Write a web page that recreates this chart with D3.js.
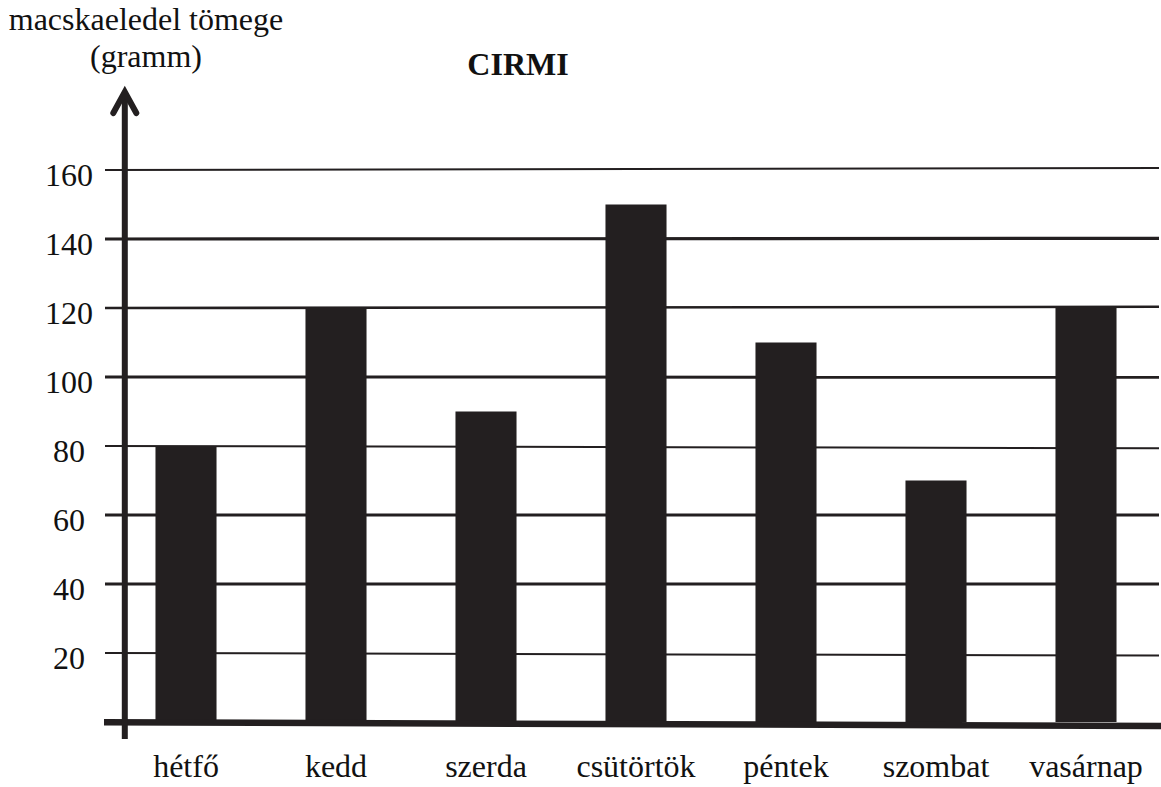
<!DOCTYPE html>
<html>
<head>
<meta charset="utf-8">
<script src="https://cdn.jsdelivr.net/npm/d3@7"></script>
<style>
  html, body { margin: 0; padding: 0; background: #fff; }
  svg { display: block; }
</style>
</head>
<body>
<svg id="chart" width="1161" height="787"></svg>
<script>
// ---- data ----
const days = ["hétfő", "kedd", "szerda", "csütörtök", "péntek", "szombat", "vasárnap"];
const values = [80, 120, 90, 150, 110, 70, 120];
const yTicks = [20, 40, 60, 80, 100, 120, 140, 160];
const title = "CIRMI";
const yTitleLines = ["macskaeledel tömege", "(gramm)"];

// ---- styling (not data) ----
const ink = "#231f20";
const fontFamily = "'Liberation Serif', 'Tinos', 'Times New Roman', 'DejaVu Serif', serif";
const fontSize = 32;
const gridWidth = {20: 2, 40: 3, 60: 3, 80: 2, 100: 3, 120: 2.6, 140: 3.2, 160: 2};
const gridTilt = {20: 2.6, 40: 0, 60: 0, 80: 2.2, 100: 0.3, 120: -1.2, 140: -0.7, 160: -2};

const svg = d3.select("#chart");

const x = d3.scaleBand()
  .domain(days)
  .range([111, 1161])
  .paddingInner(0.593)
  .paddingOuter(0.2965);

const y = d3.scaleLinear().domain([0, 160]).range([722, 170]);

const gridX0 = 105, gridX1 = 1159;

// gridlines
svg.append("g").selectAll("line")
  .data(yTicks)
  .join("line")
  .attr("x1", gridX0)
  .attr("x2", gridX1)
  .attr("y1", d => y(d))
  .attr("y2", d => y(d) + gridTilt[d])
  .attr("stroke", ink)
  .attr("stroke-width", d => gridWidth[d]);

// bars
svg.append("g").selectAll("rect")
  .data(values)
  .join("rect")
  .attr("x", (d, i) => x(days[i]))
  .attr("width", x.bandwidth())
  .attr("y", d => y(d))
  .attr("height", d => y(0) - y(d))
  .attr("fill", ink);

// baseline (slightly slanted, thick)
svg.append("line")
  .attr("x1", 104).attr("x2", 1161)
  .attr("y1", y(0) + 0.3).attr("y2", y(0) + 4)
  .attr("stroke", ink).attr("stroke-width", 6.5);

// y axis with arrow
const axisX = 124.8;
svg.append("line")
  .attr("x1", axisX).attr("x2", axisX)
  .attr("y1", 93).attr("y2", 739)
  .attr("stroke", ink).attr("stroke-width", 6);
svg.append("path")
  .attr("d", d3.line()([[axisX - 11.5, 113], [axisX, 92], [axisX + 11.5, 113]]))
  .attr("fill", "none")
  .attr("stroke", ink)
  .attr("stroke-width", 6)
  .attr("stroke-linecap", "round")
  .attr("stroke-linejoin", "miter");

const textStyle = sel => sel
  .attr("font-family", fontFamily)
  .style("font-family", fontFamily)
  .attr("font-size", fontSize)
  .attr("fill", "#111");

// y tick labels
svg.append("g").selectAll("text")
  .data(yTicks)
  .join("text")
  .call(textStyle)
  .attr("x", 69)
  .attr("y", d => y(d) + 16)
  .attr("text-anchor", "middle")
  .text(d => d);

// x labels
svg.append("g").selectAll("text")
  .data(days)
  .join("text")
  .call(textStyle)
  .attr("x", d => x(d) + x.bandwidth() / 2)
  .attr("y", 777)
  .attr("text-anchor", "middle")
  .text(d => d);

// title
svg.append("text")
  .call(textStyle)
  .attr("x", 518).attr("y", 75)
  .attr("text-anchor", "middle")
  .attr("font-weight", "bold")
  .text(title);

// y-axis title
svg.append("g").selectAll("text")
  .data(yTitleLines)
  .join("text")
  .call(textStyle)
  .attr("x", 146)
  .attr("y", (d, i) => 30 + i * 37)
  .attr("text-anchor", "middle")
  .text(d => d);
</script>
</body>
</html>
